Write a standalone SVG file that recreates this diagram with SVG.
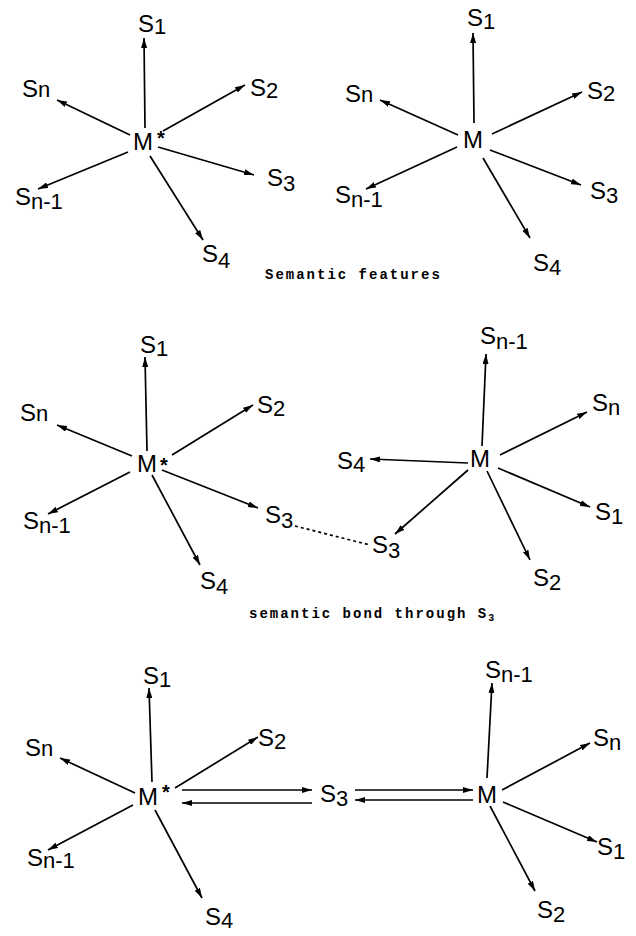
<svg xmlns="http://www.w3.org/2000/svg" width="636" height="936" viewBox="0 0 636 936">
<defs>
<marker id="a" viewBox="0 0 10 6" refX="10" refY="3" markerWidth="10" markerHeight="6" orient="auto" markerUnits="userSpaceOnUse"><path d="M0,0 L10,3 L0,6 z" fill="#000"/></marker>
<style>
.l{font-family:"Liberation Sans",Arial,sans-serif;font-size:24px;fill:#000}
.s{font-size:22px}
.ast{font-family:"Liberation Sans",Arial,sans-serif;font-size:20px;font-weight:bold;fill:#000}
.cap{font-family:"Liberation Mono","Courier New",monospace;font-size:14px;font-weight:bold;letter-spacing:2px;fill:#000}
.e{stroke:#000;stroke-width:1.7;fill:none;marker-end:url(#a)}
.d{stroke:#000;stroke-width:1.7;fill:none;stroke-dasharray:3 3}
</style>
</defs>
<rect width="636" height="936" fill="#fff"/>
<g id="connectors">
<line class="e" x1="145" y1="128" x2="144" y2="38"/>
<line class="e" x1="163" y1="131" x2="245" y2="85"/>
<line class="e" x1="130" y1="135" x2="57" y2="100"/>
<line class="e" x1="158" y1="147" x2="254" y2="175"/>
<line class="e" x1="128" y1="152" x2="38" y2="189"/>
<line class="e" x1="150" y1="156" x2="203" y2="240"/>
<line class="e" x1="474" y1="123" x2="473" y2="33"/>
<line class="e" x1="492" y1="134" x2="582" y2="92"/>
<line class="e" x1="458" y1="135" x2="380" y2="100"/>
<line class="e" x1="490" y1="150" x2="581" y2="185"/>
<line class="e" x1="457" y1="147" x2="366" y2="189"/>
<line class="e" x1="483" y1="158" x2="530" y2="238"/>
<line class="e" x1="147" y1="451" x2="145" y2="357"/>
<line class="e" x1="172" y1="455" x2="253" y2="405"/>
<line class="e" x1="132" y1="456" x2="57" y2="425"/>
<line class="e" x1="162" y1="470" x2="258" y2="508"/>
<line class="e" x1="130" y1="472" x2="48" y2="514"/>
<line class="e" x1="152" y1="475" x2="200" y2="565"/>
<line class="e" x1="482" y1="446" x2="486" y2="354"/>
<line class="e" x1="500" y1="455" x2="587" y2="412"/>
<line class="e" x1="468" y1="463" x2="370" y2="459"/>
<line class="e" x1="498" y1="468" x2="590" y2="507"/>
<line class="e" x1="487" y1="471" x2="530" y2="560"/>
<line class="e" x1="468" y1="470" x2="395" y2="534"/>
<line class="d" x1="295" y1="526" x2="370" y2="545"/>
<line class="e" x1="152" y1="782" x2="149" y2="688"/>
<line class="e" x1="175" y1="788" x2="258" y2="737"/>
<line class="e" x1="135" y1="793" x2="60" y2="758"/>
<line class="e" x1="133" y1="805" x2="48" y2="850"/>
<line class="e" x1="155" y1="810" x2="202" y2="898"/>
<line class="e" x1="182" y1="790" x2="312" y2="790"/>
<line class="e" x1="312" y1="803" x2="182" y2="803"/>
<line class="e" x1="355" y1="790" x2="473" y2="790"/>
<line class="e" x1="473" y1="800" x2="355" y2="800"/>
<line class="e" x1="487" y1="778" x2="492" y2="683"/>
<line class="e" x1="502" y1="790" x2="590" y2="743"/>
<line class="e" x1="503" y1="802" x2="597" y2="842"/>
<line class="e" x1="490" y1="806" x2="535" y2="891"/>
</g>

<g id="tl-Mstar"><text class="l" x="133" y="150">M</text><text class="ast" x="157" y="145">*</text></g>
<g id="tl-S1"><text class="l" x="138" y="32">S<tspan class="s" dy="2">1</tspan></text></g>
<g id="tl-S2"><text class="l" x="250" y="96">S<tspan class="s" dy="2">2</tspan></text></g>
<g id="tl-Sn"><text class="l" x="22" y="97">S<tspan class="s">n</tspan></text></g>
<g id="tl-S3"><text class="l" x="267" y="186">S<tspan class="s" dy="5">3</tspan></text></g>
<g id="tl-Sn1"><text class="l" x="15" y="205">S<tspan class="s" dy="4">n-1</tspan></text></g>
<g id="tl-S4"><text class="l" x="202" y="262">S<tspan class="s" dy="6">4</tspan></text></g>

<g id="tr-M"><text class="l" x="463" y="148">M</text></g>
<g id="tr-S1"><text class="l" x="467" y="26">S<tspan class="s" dy="3">1</tspan></text></g>
<g id="tr-S2"><text class="l" x="587" y="99">S<tspan class="s" dy="2">2</tspan></text></g>
<g id="tr-Sn"><text class="l" x="345" y="102">S<tspan class="s">n</tspan></text></g>
<g id="tr-S3"><text class="l" x="590" y="199">S<tspan class="s" dy="4">3</tspan></text></g>
<g id="tr-Sn1"><text class="l" x="335" y="203">S<tspan class="s" dy="4">n-1</tspan></text></g>
<g id="tr-S4"><text class="l" x="533" y="271">S<tspan class="s" dy="4">4</tspan></text></g>
<g id="cap1"><text class="cap" x="265" y="279">Semantic features</text></g>

<g id="ml-Mstar"><text class="l" x="137" y="472">M</text><text class="ast" x="160" y="472">*</text></g>
<g id="ml-S1"><text class="l" x="140" y="353">S<tspan class="s" dy="3">1</tspan></text></g>
<g id="ml-S2"><text class="l" x="257" y="413">S<tspan class="s" dy="3">2</tspan></text></g>
<g id="ml-Sn"><text class="l" x="20" y="421">S<tspan class="s">n</tspan></text></g>
<g id="ml-S3"><text class="l" x="265" y="523">S<tspan class="s" dy="5">3</tspan></text></g>
<g id="ml-Sn1"><text class="l" x="23" y="529">S<tspan class="s" dy="4">n-1</tspan></text></g>
<g id="ml-S4"><text class="l" x="200" y="589">S<tspan class="s" dy="5">4</tspan></text></g>

<g id="mr-M"><text class="l" x="470" y="467">M</text></g>
<g id="mr-Sn1"><text class="l" x="480" y="344">S<tspan class="s" dy="5">n-1</tspan></text></g>
<g id="mr-Sn"><text class="l" x="592" y="411">S<tspan class="s" dy="4">n</tspan></text></g>
<g id="mr-S4"><text class="l" x="337" y="469">S<tspan class="s" dy="3">4</tspan></text></g>
<g id="mr-S1"><text class="l" x="595" y="520">S<tspan class="s" dy="4">1</tspan></text></g>
<g id="mr-S2"><text class="l" x="533" y="586">S<tspan class="s" dy="4">2</tspan></text></g>
<g id="mr-S3"><text class="l" x="372" y="553">S<tspan class="s" dy="5">3</tspan></text></g>
<g id="cap2"><text class="cap" x="249" y="618">semantic bond through S<tspan font-size="10" dy="3">3</tspan></text></g>

<g id="bl-Mstar"><text class="l" x="138" y="805">M</text><text class="ast" x="162" y="799">*</text></g>
<g id="bl-S1"><text class="l" x="143" y="684">S<tspan class="s" dy="3">1</tspan></text></g>
<g id="bl-S2"><text class="l" x="258" y="746">S<tspan class="s" dy="3">2</tspan></text></g>
<g id="bl-Sn"><text class="l" x="25" y="756">S<tspan class="s">n</tspan></text></g>
<g id="bl-Sn1"><text class="l" x="27" y="866">S<tspan class="s" dy="2">n-1</tspan></text></g>
<g id="bl-S4"><text class="l" x="205" y="925">S<tspan class="s" dy="3">4</tspan></text></g>
<g id="b-S3"><text class="l" x="320" y="802">S<tspan class="s" dy="4">3</tspan></text></g>

<g id="br-M"><text class="l" x="477" y="803">M</text></g>
<g id="br-Sn1"><text class="l" x="485" y="678">S<tspan class="s" dy="4">n-1</tspan></text></g>
<g id="br-Sn"><text class="l" x="593" y="746">S<tspan class="s" dy="4">n</tspan></text></g>
<g id="br-S1"><text class="l" x="597" y="855">S<tspan class="s" dy="4">1</tspan></text></g>
<g id="br-S2"><text class="l" x="537" y="918">S<tspan class="s" dy="4">2</tspan></text></g>
</svg>
